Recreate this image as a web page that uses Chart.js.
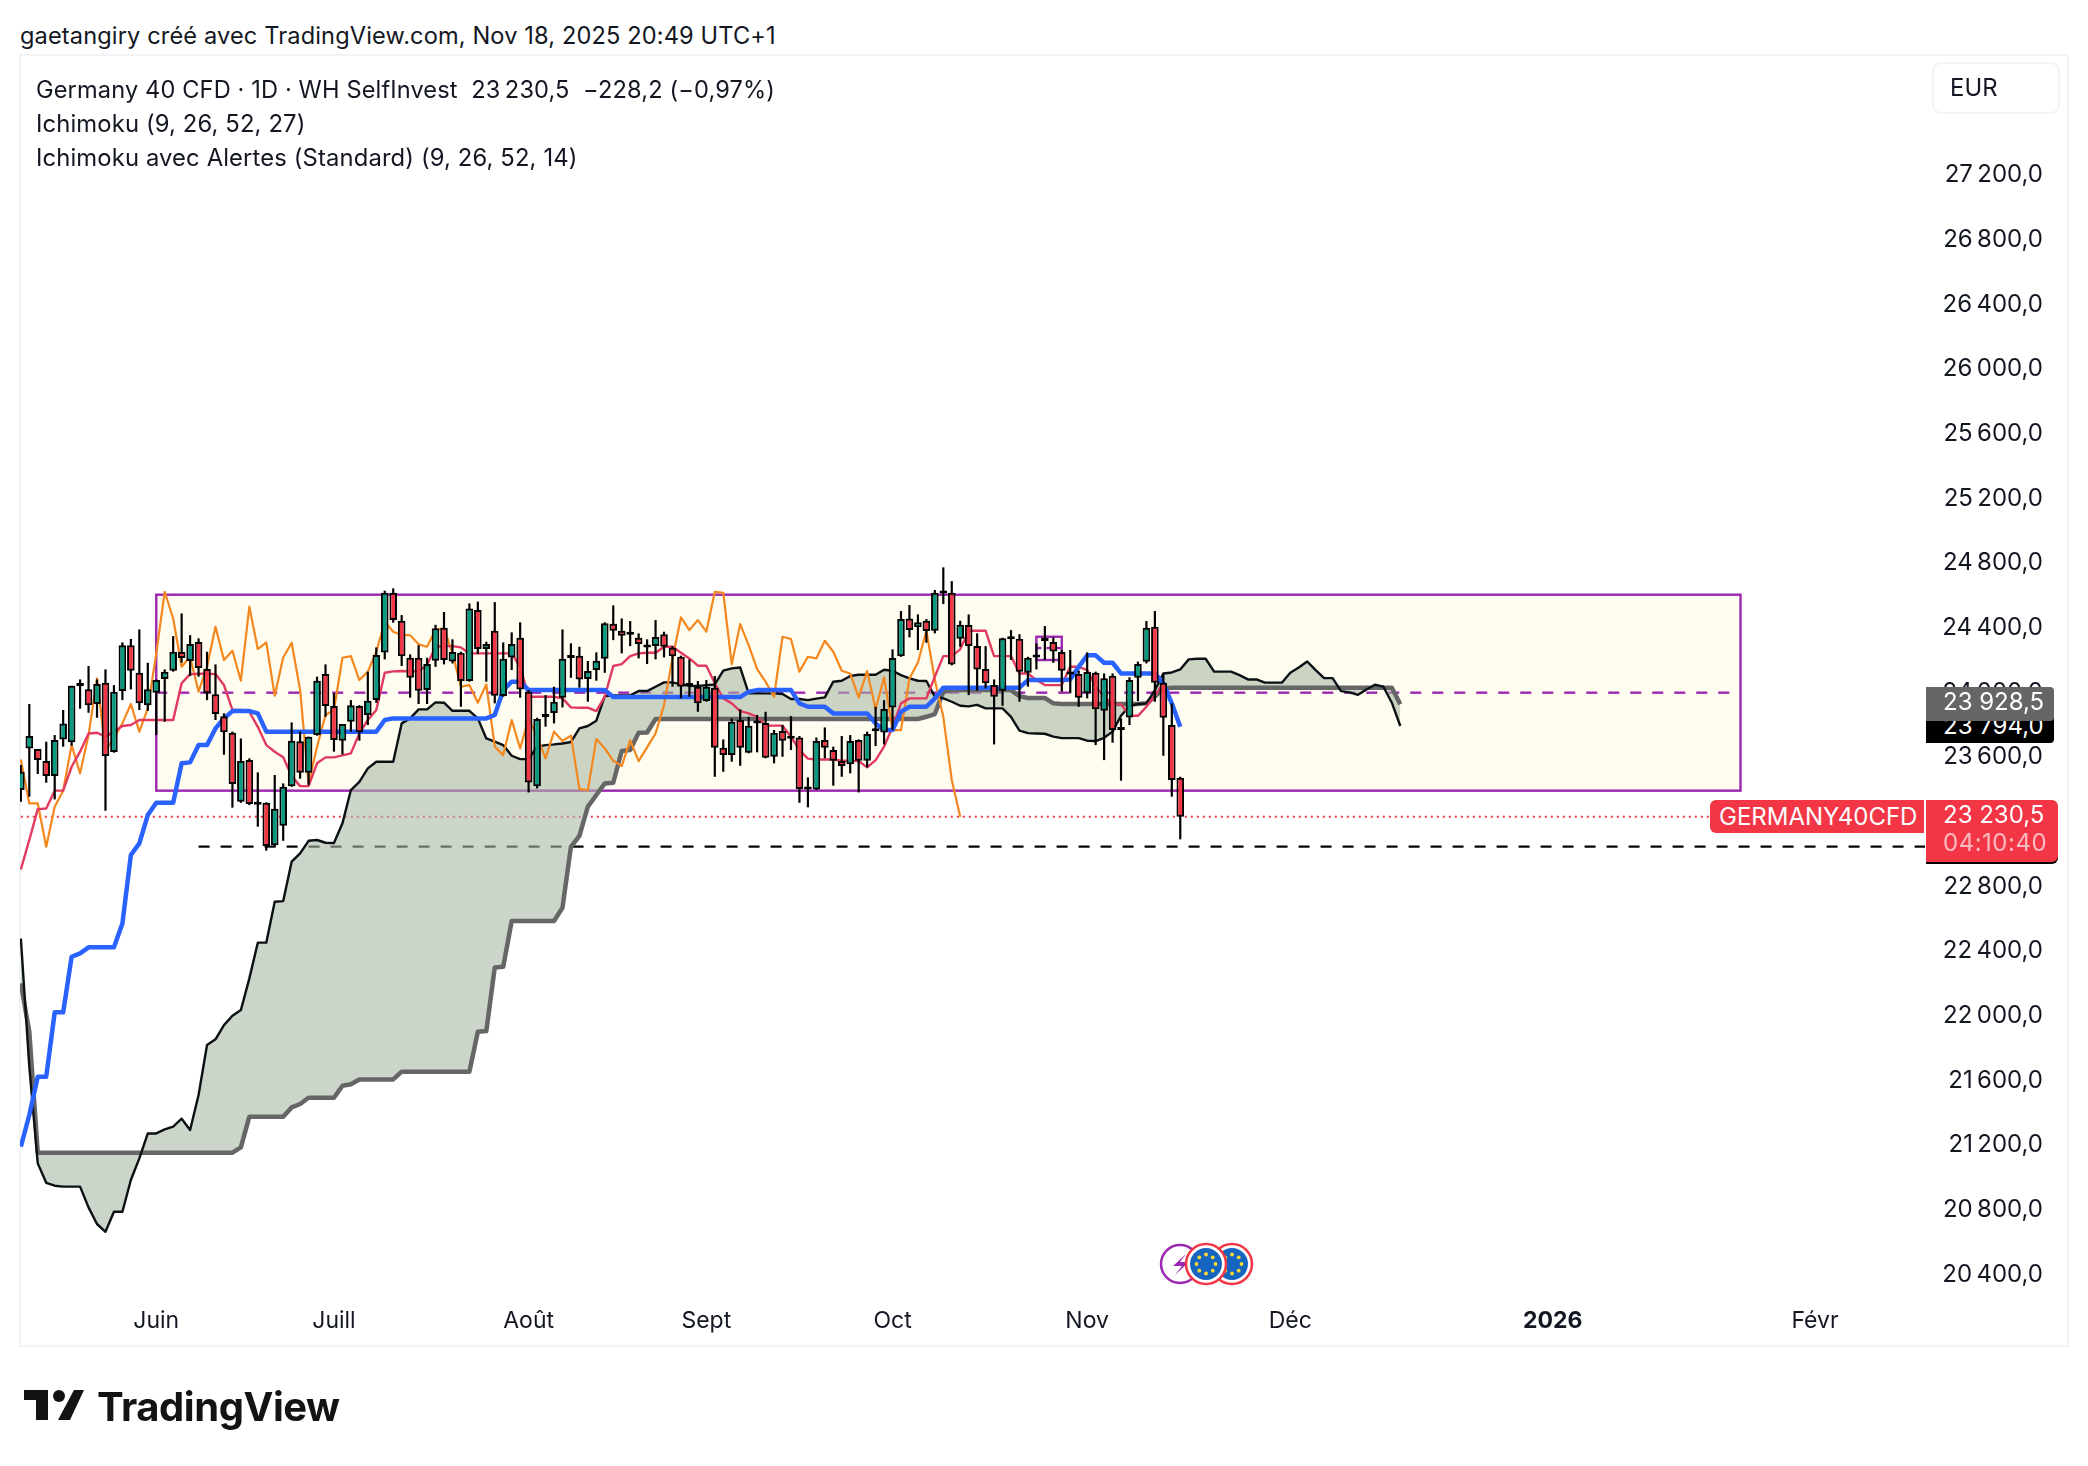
<!DOCTYPE html>
<html lang="fr"><head><meta charset="utf-8">
<script src="https://cdn.jsdelivr.net/npm/chart.js@4"></script>
<style>
html,body{margin:0;padding:0;background:#fff;width:2088px;height:1466px;overflow:hidden;font-family:Inter,sans-serif;color:#131722}
#frame{position:absolute;left:19px;top:54px;width:2050px;height:1293px;border:2px solid #f3f4f6;box-sizing:border-box}
canvas{position:absolute;left:0;top:0}
.t{position:absolute;white-space:pre;font-size:23.8px;line-height:28px;letter-spacing:.13px}
.lb{position:absolute;box-sizing:border-box;color:#fff;font-size:24px;white-space:pre}
svg{position:absolute;left:0;top:0}
</style></head><body>
<div class="t" style="left:20px;top:22px;font-size:23.6px">gaetangiry créé avec TradingView.com, Nov 18, 2025 20:49 UTC+1</div>
<div id="frame"></div>
<canvas id="c" width="2088" height="1466"></canvas>
<div class="t" style="left:36px;top:76px;font-size:23.6px">Germany 40 CFD · 1D · WH SelfInvest  23&#8239;230,5  −228,2 (−0,97%)</div>
<div class="t" style="left:36px;top:110px">Ichimoku (9, 26, 52, 27)</div>
<div class="t" style="left:36px;top:144px">Ichimoku avec Alertes (Standard) (9, 26, 52, 14)</div>
<div style="position:absolute;left:1932px;top:62px;width:128px;height:52px;border:2px solid #f3f4f6;border-radius:9px;box-sizing:border-box"></div>
<div class="t" style="left:1950px;top:74px">EUR</div>
<div class="lb" style="left:1926px;top:709px;width:128px;height:34px;background:#000;border-radius:0 0 4px 0;padding:2px 0 0 17px;line-height:30px">23 794,0</div>
<div class="lb" style="left:1926px;top:687px;width:128px;height:34px;background:#666;border-radius:0 4px 4px 0;padding:0 0 0 17px;line-height:30px">23 928,5</div>
<div class="lb" style="left:1926px;top:830px;width:132px;height:34px;background:#000;border-radius:0 0 6px 0"></div>
<div class="lb" style="left:1926px;top:800px;width:132px;height:62px;background:#f23645;border-radius:0 6px 6px 0;padding:1px 0 0 17px;line-height:28px">23 230,5<br><span style="opacity:.65;letter-spacing:.5px">04:10:40</span></div>
<div class="lb" style="left:1710px;top:800px;width:214px;height:33px;background:#f23645;border-radius:6px 0 0 6px;padding:1px 0 0 9px;line-height:31px">GERMANY40CFD</div>
<svg id="icons" width="2088" height="1466" xmlns="http://www.w3.org/2000/svg"></svg>
<div style="position:absolute;left:97px;top:1383px;font-size:40px;line-height:48px;font-weight:700;letter-spacing:-.45px;color:#131313">TradingView</div>
<script>
const opens=[23396,23653,23649,23575,23482,23709,23691,24039,24020,23928,
24060,23631,24008,24292,24121,23921,23998,24082,24134,24249,
24194,24311,24144,23989,23853,23750,23324,23581,23309,23317,
23054,23175,23420,23697,23503,23736,24113,23915,23701,23818,
23915,23860,23952,24247,24616,24443,24214,24214,24014,24196,
24400,24191,24245,24070,24509,24268,24381,23977,24216,24338,
24004,23420,23847,23872,23967,24212,24227,24082,24138,24208,
24424,24381,24365,24338,24295,24286,24360,24276,24220,24045,
24035,23946,24029,23658,23612,23829,23627,23812,23810,23602,
23761,23719,23721,23406,23400,23705,23643,23575,23555,23705,
23577,23765,23752,23907,24224,24457,24402,24443,24381,24620,
24616,24332,24416,24286,24144,24045,24010,24336,24332,24121,
24220,24321,24311,24249,24115,24113,23994,24121,23886,24103,
23771,23845,24090,24190,24406,24060,23798,23472];
const highs=[23550,23928,23649,23695,23736,23891,24041,24080,24163,24080,
24142,24045,24309,24330,24389,24183,24080,24142,24348,24488,
24354,24334,24251,24173,23870,23757,23715,23592,23505,23320,
23489,23437,23814,23757,23726,24097,24173,23994,23804,23952,
23921,24128,24278,24629,24643,24478,24235,24292,24214,24418,
24497,24328,24251,24550,24561,24313,24558,24309,24371,24433,
24014,23843,23983,24035,24389,24303,24282,24194,24247,24433,
24538,24457,24441,24365,24328,24447,24375,24286,24227,24204,
24070,24076,24101,23709,23839,23895,23849,23860,23880,23767,
23798,23853,23730,23474,23721,23783,23664,23730,23736,23709,
23757,23911,23952,24266,24503,24540,24482,24453,24633,24773,
24688,24443,24482,24365,24286,24080,24338,24385,24360,24220,
24303,24410,24340,24262,24262,24134,24247,24128,24117,24117,
23839,24093,24190,24441,24503,24117,23932,23478];
const lows=[23324,23355,23495,23441,23338,23664,23670,23899,23874,23843,
23268,23627,23952,24018,23891,23886,23736,23818,24128,24183,
24101,24097,23952,23829,23614,23287,23317,23303,23169,23021,
23045,23082,23416,23466,23427,23732,23849,23633,23616,23757,
23701,23798,23936,24204,24431,24163,23967,23928,23928,24158,
24173,24179,23911,24066,24237,24066,23932,23973,24138,23967,
23381,23406,23788,23808,23907,24090,24029,23942,24072,24121,
24323,24241,24286,24210,24175,24204,24216,24035,23963,23973,
23880,23942,23478,23509,23571,23546,23623,23629,23592,23561,
23602,23643,23317,23289,23396,23592,23423,23478,23499,23381,
23536,23668,23678,23767,24220,24340,24262,24307,24365,24546,
24167,24282,23983,24010,24025,23678,23917,24200,23942,24035,
24142,24200,24183,24004,23994,23911,23963,23674,23581,23689,
23454,23798,23946,24179,23942,23608,23355,23091];
const closes=[23509,23730,23581,23482,23705,23808,24041,24045,23921,24051,
23606,24004,24292,24134,23932,24020,24076,24128,24251,24212,
24299,24150,23994,23866,23754,23433,23575,23309,23305,23050,
23280,23416,23701,23503,23726,24072,23915,23705,23804,23921,
23754,23948,24231,24616,24447,24224,24090,24010,24175,24396,
24200,24249,24070,24519,24268,24299,23979,24208,24299,24018,
23443,23835,23862,23942,24208,24220,24080,24132,24196,24427,
24381,24350,24356,24299,24278,24342,24282,24224,24035,24039,
23932,24035,23658,23612,23818,23658,23794,23808,23596,23750,
23701,23713,23402,23400,23699,23658,23577,23544,23699,23577,
23742,23759,23897,24212,24453,24385,24433,24379,24616,24612,
24173,24418,24286,24142,24056,23973,24334,24328,24128,24214,
24216,24317,24253,24134,24111,23967,24126,23895,24088,23767,
23767,24076,24175,24400,24060,23843,23458,23230.5];
const tenkan=[22905,23087,23278,23282,23392,23392,23540,23633,23746,23750,
23726,23757,23792,23798,23829,23829,23829,23829,23829,24056,
24113,24115,24115,24113,24045,23891,23891,23880,23787,23674,
23633,23598,23482,23420,23420,23561,23598,23598,23610,23623,
23746,23829,23891,24121,24130,24132,24130,24130,24169,24282,
24286,24286,24278,24241,24241,24241,24241,24241,24241,24158,
23973,23973,23973,23973,23963,23907,23905,23905,23884,23973,
24163,24175,24224,24241,24245,24245,24282,24282,24245,24210,
24165,24165,24056,23963,23932,23884,23870,23849,23794,23794,
23794,23726,23643,23590,23585,23585,23585,23577,23577,23575,
23536,23581,23664,23787,23932,23963,23963,23963,24097,24224,
24224,24266,24381,24381,24381,24224,24224,24224,24117,24117,
24076,24045,24045,24045,24158,24158,24138,24035,23973,23926,
23926,23855,23855,23911,23979,24056,23930,23798];
const kijun=[21190,21386,21623,21623,22021,22021,22365,22386,22423,22423,
22423,22423,22571,22994,23066,23241,23317,23317,23317,23561,
23567,23674,23674,23777,23839,23884,23884,23884,23870,23757,
23757,23757,23757,23757,23757,23757,23757,23757,23757,23757,
23757,23757,23757,23829,23839,23839,23839,23839,23839,23839,
23839,23839,23839,23839,23839,23839,23860,24014,24066,24066,
24014,24014,24014,24014,24014,24014,24014,24014,24014,24014,
23971,23971,23971,23971,23971,23971,23971,23971,23971,23971,
23971,23971,23971,23971,23971,23971,24004,24014,24014,24014,
24014,24014,23932,23911,23911,23911,23870,23870,23870,23870,
23870,23808,23767,23767,23880,23911,23911,23911,23963,24029,
24029,24029,24029,24029,24029,24029,24029,24029,24029,24076,
24076,24076,24076,24076,24080,24158,24229,24229,24183,24183,
24117,24117,24117,24117,24117,24056,23932,23787];
const chikou=[23585,23313,23313,23045,23293,23392,23674,23499,23736,24086,
23643,23715,23808,23928,23757,23901,24241,24622,24457,24158,
24220,24004,24158,24406,24200,24257,24072,24530,24268,24309,
23979,24216,24307,24014,23437,23664,23860,23891,24214,24224,
24076,24128,24251,24437,24375,24354,24354,24297,24282,24385,
24396,24241,24035,24045,23936,24049,23664,23612,23829,23653,
23839,23726,23592,23757,23699,23732,23402,23396,23711,23653,
23577,23544,23705,23575,23660,23746,23921,24210,24464,24385,
24447,24375,24622,24616,24173,24422,24292,24144,24066,23973,
24344,24330,24128,24220,24210,24319,24251,24134,24117,23969,
24132,23895,24092,23767,23767,24086,24185,24381,24076,23849,
23458,23231];
const spanA=[22478,21685,21087,20967,20949,20943,20943,20943,20815,20712,
20664,20788,20788,20984,21118,21272,21272,21297,21314,21363,
21293,21510,21819,21854,21942,22000,22035,22231,22452,22452,
22705,22709,22953,23004,23082,23087,23070,23068,23190,23396,
23447,23530,23571,23571,23571,23808,23839,23895,23895,23938,
23936,23886,23886,23886,23839,23715,23695,23674,23608,23587,
23587,23664,23674,23678,23684,23693,23777,23792,23825,23977,
23981,23981,23981,24008,24008,24035,24062,24062,24049,24041,
24039,24045,24049,24134,24148,24154,23994,23994,23994,23994,
23990,23959,23959,23952,23961,23969,24066,24072,24101,24109,
24109,24109,24140,24134,24107,24086,24072,24070,23973,23963,
23942,23917,23913,23923,23901,23901,23901,23849,23763,23748,
23746,23744,23726,23717,23717,23717,23701,23699,23719,23757,
23855,23915,23928,23932,24014,24117,24123,24142,24204,24208,
24208,24128,24128,24128,24107,24080,24080,24060,24060,24060,
24121,24154,24191,24138,24088,24088,24008,24000,23985,24018,
24047,24035,23936,23792];
const spanB=[22200,21901,21153,21153,21153,21153,21153,21153,21153,21153,
21153,21153,21153,21153,21153,21153,21153,21153,21153,21153,
21153,21153,21153,21153,21153,21153,21186,21376,21376,21376,
21376,21376,21433,21454,21493,21493,21493,21493,21567,21576,
21606,21606,21606,21606,21606,21654,21654,21654,21654,21654,
21654,21654,21654,21654,21901,21905,22299,22303,22586,22586,
22586,22586,22586,22586,22668,23045,23113,23293,23365,23437,
23441,23637,23643,23750,23752,23835,23835,23835,23835,23835,
23835,23835,23835,23835,23835,23835,23835,23835,23835,23835,
23835,23835,23835,23835,23835,23835,23835,23835,23835,23835,
23835,23835,23835,23835,23835,23835,23835,23849,23866,24004,
24014,24014,24014,24014,24014,24014,24014,24014,23977,23965,
23965,23965,23932,23928,23928,23928,23928,23928,23928,23928,
23928,23928,23928,23932,23973,24024,24029,24029,24029,24029,
24029,24029,24029,24029,24029,24029,24029,24029,24029,24029,
24029,24029,24029,24029,24029,24029,24029,24029,24029,24029,
24029,24029,24029,23926];
const priceTicks=[20400,20800,21200,21600,22000,22400,22800,23200,23600,24000,24400,24800,25200,25600,26000,26400,26800,27200];
const monthLabels=['Juin','Juill','Août','Sept','Oct','Nov','Déc','2026','Févr'];
const monthIndex=[16,37,60,81,103,126,150,181,212];
const boxBars=[16,203.2], boxPrices=[23392,24604], boxMid=[23998];
const smallBoxBars=[120,123], smallBoxPrices=[24200,24344], smallBoxMid=[24274];
const lowLevelBars=[21,225], lowLevel=[23046], lastPrice=[23230.5], dottedBars=[0,200.5];

Chart.defaults.font.family='Inter, sans-serif';
const pts=a=>a.map((v,i)=>({x:i,y:v}));
const line=(label,data,color,width,order,extra)=>Object.assign({type:'line',label,data:pts(data),borderColor:color,borderWidth:width,pointRadius:0,tension:0,order,fill:false,borderJoinStyle:'round'},extra||{});
const isUp=i=>closes[i]>=opens[i];
const bgPlugin={id:'bg',beforeDraw(ch){
  const {ctx,scales:{x,y},chartArea:a}=ch;ctx.save();
  ctx.beginPath();ctx.rect(a.left,a.top,a.right-a.left,a.bottom-a.top);ctx.clip();
  const bx=x.getPixelForValue(boxBars[0]),bx2=x.getPixelForValue(boxBars[1]),by=y.getPixelForValue(boxPrices[1]),by2=y.getPixelForValue(boxPrices[0]);
  ctx.fillStyle='#fffdf0';ctx.fillRect(bx,by,bx2-bx,by2-by);
  ctx.strokeStyle='#9c27b0';ctx.lineWidth=2.4;ctx.strokeRect(bx,by,bx2-bx,by2-by);
  ctx.setLineDash([11,11]);ctx.beginPath();const my=y.getPixelForValue(boxMid[0]);ctx.moveTo(bx,my);ctx.lineTo(bx2,my);ctx.stroke();ctx.setLineDash([]);
  const sx=x.getPixelForValue(smallBoxBars[0]),sx2=x.getPixelForValue(smallBoxBars[1]),sy=y.getPixelForValue(smallBoxPrices[1]),sy2=y.getPixelForValue(smallBoxPrices[0]);
  ctx.strokeRect(sx,sy,sx2-sx,sy2-sy);
  ctx.setLineDash([5,5]);ctx.beginPath();const smy=y.getPixelForValue(smallBoxMid[0]);ctx.moveTo(sx,smy);ctx.lineTo(sx2,smy);ctx.stroke();ctx.setLineDash([]);
  ctx.strokeStyle='#f23645';ctx.lineWidth=2;ctx.setLineDash([2,4]);ctx.beginPath();const ly=y.getPixelForValue(lastPrice[0]);ctx.moveTo(x.getPixelForValue(dottedBars[0]),ly);ctx.lineTo(1710,ly);ctx.stroke();
  ctx.strokeStyle='#000';ctx.lineWidth=2.2;ctx.setLineDash([11,11]);ctx.beginPath();const dy=y.getPixelForValue(lowLevel[0]);ctx.moveTo(x.getPixelForValue(lowLevelBars[0]),dy);ctx.lineTo(x.getPixelForValue(lowLevelBars[1]),dy);ctx.stroke();
  ctx.restore();
}};
new Chart(document.getElementById('c'),{
 data:{datasets:[
  line('Senkou B',spanB,'#666666',4.5,6),
  line('Senkou A',spanA,'#0b1014',2.4,5,{fill:{target:0,above:'rgba(168,185,165,0.6)',below:'rgba(168,185,165,0.6)'}}),
  line('Chikou',chikou,'#f5871f',2.2,4),
  line('Tenkan',tenkan,'#e2395f',2.4,3),
  line('Kijun',kijun,'#2962ff',4.5,2),
  {type:'bar',label:'Mèches',data:lows.map((l,i)=>({x:i,y:[l,highs[i]]})),backgroundColor:'#000',barThickness:2.2,grouped:false,order:1,inflateAmount:0},
  {type:'bar',label:'Corps',data:opens.map((o,i)=>({x:i,y:[o,closes[i]]})),backgroundColor:c=>isUp(c.dataIndex)?'#089981':'#f23645',borderColor:'#000',borderWidth:2,borderSkipped:false,barThickness:7.6,minBarLength:3,grouped:false,order:0,inflateAmount:0}
 ]},
 options:{responsive:false,animation:false,devicePixelRatio:1,
  layout:{padding:{left:20,top:54,right:45,bottom:120}},
  plugins:{legend:{display:false},tooltip:{enabled:false},filler:{drawTime:'beforeDatasetsDraw'}},
  scales:{
   x:{type:'linear',offset:false,min:-0.1,max:225,grid:{display:false,offset:false,drawTicks:false},border:{display:false},
      afterBuildTicks:s=>{s.ticks=monthIndex.map(v=>({value:v}))},
      afterFit:s=>{s.height=46},
      ticks:{autoSkip:false,maxRotation:0,padding:7,color:'#131722',font:c=>({size:23,weight:monthLabels[c.index]==='2026'?'700':'400'}),
        callback:(v)=>monthLabels[monthIndex.indexOf(v)]}},
   y:{type:'linear',position:'right',min:20242,max:27948,grid:{display:false,drawTicks:false},border:{display:false},
      afterBuildTicks:s=>{s.ticks=priceTicks.map(v=>({value:v}))},
      afterFit:s=>{s.width=118},
      ticks:{autoSkip:false,padding:18,crossAlign:'far',color:'#131722',font:{size:24},
        callback:v=>Math.floor(v/1000)+'\u202f'+String(v%1000).padStart(3,'0')+',0'}}
  }},
 plugins:[bgPlugin]
});
// Event markers and logo
const svg=document.getElementById('icons');
const NS='http://www.w3.org/2000/svg';
const el=(n,a)=>{const e=document.createElementNS(NS,n);for(const k in a)e.setAttribute(k,a[k]);svg.appendChild(e);return e};
el('path',{d:'M24 1390H48V1420H36V1400H24Z',fill:'#131313'});
el('circle',{cx:59,cy:1396,r:6,fill:'#131313'});
el('path',{d:'M74 1390H84L70 1420H58Z',fill:'#131313'});
el('circle',{cx:1180,cy:1264,r:19,fill:'#fff',stroke:'#9c27b0','stroke-width':2.5});
el('path',{d:'M1186 1254L1173 1266H1182L1175 1275L1189 1262H1180Z',fill:'#9c27b0'});
for(const cx of [1232,1206]){
  el('circle',{cx,cy:1264,r:20,fill:'#fff',stroke:'#f23645','stroke-width':2.5});
  el('circle',{cx,cy:1264,r:16,fill:'#1565c0'});
  for(let k=0;k<8;k++){const a=k*Math.PI/4;el('circle',{cx:cx+9.5*Math.cos(a),cy:1264+9.5*Math.sin(a),r:1.9,fill:'#fdd835'});}
}
</script>
</body></html>
